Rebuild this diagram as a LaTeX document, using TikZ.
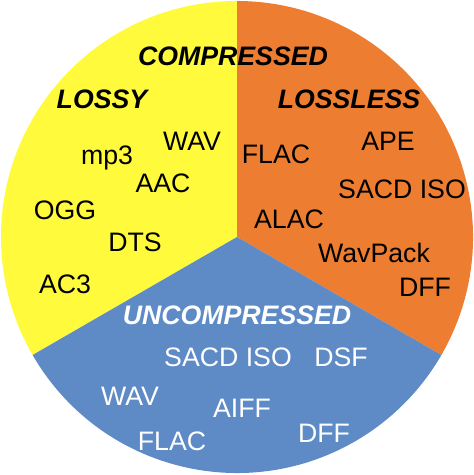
\documentclass[tikz,border=0pt]{standalone}
\usepackage{fontspec}
\setmainfont{Liberation Sans}

\definecolor{lossyyellow}{RGB}{255,250,60}
\definecolor{losslessorange}{RGB}{237,125,49}
\definecolor{rawblue}{RGB}{94,139,198}

\begin{document}
\begin{tikzpicture}[x=1pt,y=1pt,
    fmt/.style={anchor=base,inner sep=0pt,font=\fontsize{26.7}{32}\selectfont},
    grp/.style={fmt,font=\fontsize{26.7}{32}\selectfont\bfseries\itshape}]
    \useasboundingbox (0,0) rectangle (474,475);
    \coordinate (c) at (237,238);

    % Sectors
    \fill[lossyyellow] (c) -- ++(90:236) arc[start angle=90,end angle=210,radius=236] -- cycle;
    \fill[losslessorange] (c) -- ++(-30:236) arc[start angle=-30,end angle=90,radius=236] -- cycle;
    \fill[rawblue] (c) -- ++(210:236) arc[start angle=210,end angle=330,radius=236] -- cycle;

    % Group labels
    \node[grp] (compressed) at (233,409.3) {COMPRESSED};
    \node[grp] (lossy) at (102,366) {LOSSY};
    \node[grp] (lossless) at (349,366) {LOSSLESS};
    \node[grp,white] (uncompressed) at (237,150) {UNCOMPRESSED};

    % Lossy formats
    \node[fmt] (lywav) at (192,324.3) {WAV};
    \node[fmt] (lymp3) at (107,310) {mp3};
    \node[fmt] (lyaac) at (163,282) {AAC};
    \node[fmt] (lyogg) at (65,255) {OGG};
    \node[fmt] (lydts) at (135,223) {DTS};
    \node[fmt] (lyac3) at (65,181) {AC3};

    % Lossless formats
    \node[fmt] (llflac) at (276,311) {FLAC};
    \node[fmt] (llape) at (388,324.3) {APE};
    \node[fmt] (llsacd) at (402,276) {SACD ISO};
    \node[fmt] (llalac) at (289,246) {ALAC};
    \node[fmt] (llwavpack) at (374,212.3) {WavPack};
    \node[fmt] (lldff) at (425,178) {DFF};

    % Uncompressed formats
    \node[fmt,white] (ucsacd) at (228,108) {SACD ISO};
    \node[fmt,white] (ucdsf) at (341,108) {DSF};
    \node[fmt,white] (ucwav) at (130,70) {WAV};
    \node[fmt,white] (ucaiff) at (242,57.3) {AIFF};
    \node[fmt,white] (ucdff) at (324,32) {DFF};
    \node[fmt,white] (ucflac) at (172,24) {FLAC};
\end{tikzpicture}
\end{document}
